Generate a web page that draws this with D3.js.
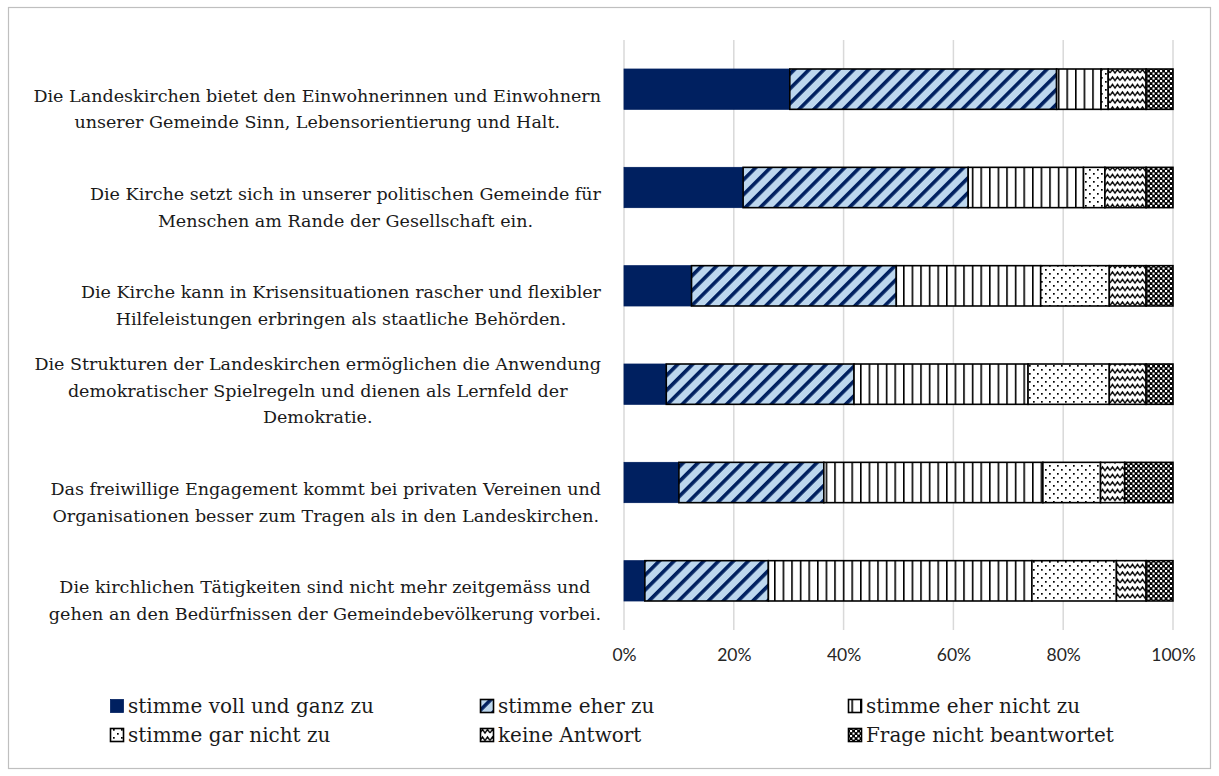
<!DOCTYPE html>
<html>
<head>
<meta charset="utf-8">
<script src="https://cdn.jsdelivr.net/npm/d3@7/dist/d3.min.js"></script>
<style>
  html, body { margin: 0; padding: 0; background: #fff; }
  svg { display: block; }
</style>
</head>
<body>
<svg id="chart" width="1219" height="776"></svg>
<script>
// Statements (each entry holds the wrapped lines of one category label)
const categories = [
  ["Die Landeskirchen bietet den Einwohnerinnen und Einwohnern", "unserer Gemeinde Sinn, Lebensorientierung und Halt."],
  ["Die Kirche setzt sich in unserer politischen Gemeinde für", "Menschen am Rande der Gesellschaft ein."],
  ["Die Kirche kann in Krisensituationen rascher und flexibler", "Hilfeleistungen erbringen als staatliche Behörden."],
  ["Die Strukturen der Landeskirchen ermöglichen die Anwendung", "demokratischer Spielregeln und dienen als Lernfeld der", "Demokratie."],
  ["Das freiwillige Engagement kommt bei privaten Vereinen und", "Organisationen besser zum Tragen als in den Landeskirchen."],
  ["Die kirchlichen Tätigkeiten sind nicht mehr zeitgemäss und", "gehen an den Bedürfnissen der Gemeindebevölkerung vorbei."]
];

// Answer categories
const seriesNames = [
  "stimme voll und ganz zu",
  "stimme eher zu",
  "stimme eher nicht zu",
  "stimme gar nicht zu",
  "keine Antwort",
  "Frage nicht beantwortet"
];

// Shares in percent, one value per statement
const volUndGanz     = [30.2, 21.7, 12.3,  7.7, 10.0,  3.8];
const eherZu         = [48.6, 41.0, 37.3, 34.2, 26.4, 22.5];
const eherNicht      = [ 8.1, 21.0, 26.3, 31.7, 39.9, 48.0];
const garNicht       = [ 1.3,  3.9, 12.5, 14.8, 10.5, 15.4];
const keineAntwort   = [ 6.9,  7.5,  6.7,  6.7,  4.4,  5.4];
const nichtBeantwort = [ 4.9,  4.9,  4.9,  4.9,  8.8,  4.9];

const tickValues = [0, 20, 40, 60, 80, 100];
const tickLabels = ["0%", "20%", "40%", "60%", "80%", "100%"];

const seriesValues = [volUndGanz, eherZu, eherNicht, garNicht, keineAntwort, nichtBeantwort];

const table = categories.map((c, i) => {
  const row = { key: i };
  seriesNames.forEach((s, j) => { row[s] = seriesValues[j][i]; });
  return row;
});

const svg = d3.select("#chart");
const serif = "'Palatino Linotype', 'Book Antiqua', Palatino, 'DejaVu Serif', serif";

// Background and frame
svg.append("rect").attr("width", 1219).attr("height", 776).attr("fill", "#fff");
svg.append("rect")
  .attr("x", 8.5).attr("y", 7.5).attr("width", 1202).attr("height", 761)
  .attr("fill", "none").attr("stroke", "#bfbfbf").attr("stroke-width", 1.2);

// Fill patterns
const defs = svg.append("defs");
const NAVY = "#002060";

const pDiag = defs.append("pattern").attr("id", "p-diag")
  .attr("patternUnits", "userSpaceOnUse").attr("width", 10.5).attr("height", 10.5)
  .attr("patternTransform", "rotate(45)");
pDiag.append("rect").attr("width", 10.5).attr("height", 10.5).attr("fill", "#bdd7ee");
pDiag.append("rect").attr("width", 3.6).attr("height", 10.5).attr("fill", NAVY);

const pVert = defs.append("pattern").attr("id", "p-vert")
  .attr("patternUnits", "userSpaceOnUse").attr("width", 8.6).attr("height", 8);
pVert.append("rect").attr("width", 8.6).attr("height", 8).attr("fill", "#fff");
pVert.append("rect").attr("x", 0).attr("width", 1.6).attr("height", 8).attr("fill", "#000");

const pDots = defs.append("pattern").attr("id", "p-dots")
  .attr("patternUnits", "userSpaceOnUse").attr("width", 8).attr("height", 8);
pDots.append("rect").attr("width", 8).attr("height", 8).attr("fill", "#fff");
pDots.append("rect").attr("x", 1).attr("y", 1).attr("width", 1.7).attr("height", 1.7).attr("fill", "#000");
pDots.append("rect").attr("x", 5).attr("y", 5).attr("width", 1.7).attr("height", 1.7).attr("fill", "#000");

const pWave = defs.append("pattern").attr("id", "p-wave")
  .attr("patternUnits", "userSpaceOnUse").attr("width", 10).attr("height", 7.5);
pWave.append("rect").attr("width", 10).attr("height", 7.5).attr("fill", "#fff");
pWave.append("path").attr("d", "M0,5.5 L2.5,2 L5,5.5 L7.5,2 L10,5.5")
  .attr("fill", "none").attr("stroke", "#000").attr("stroke-width", 1.4);

const pDense = defs.append("pattern").attr("id", "p-dense")
  .attr("patternUnits", "userSpaceOnUse").attr("width", 5).attr("height", 5);
pDense.append("rect").attr("width", 5).attr("height", 5).attr("fill", "#000");
pDense.append("rect").attr("x", 0).attr("y", 0).attr("width", 2.1).attr("height", 2.1).attr("fill", "#fff");
pDense.append("rect").attr("x", 2.5).attr("y", 2.5).attr("width", 2.1).attr("height", 2.1).attr("fill", "#fff");

const fills = [NAVY, "url(#p-diag)", "url(#p-vert)", "url(#p-dots)", "url(#p-wave)", "url(#p-dense)"];
const strokes = [NAVY, "#000", "#000", "#000", "#000", "#000"];

// Scales
const x = d3.scaleLinear().domain([0, 100]).range([624, 1173]);
const y = d3.scaleBand().domain(d3.range(categories.length)).range([40, 630])
  .paddingInner(0.59).paddingOuter(0.295);

// Vertical gridlines
svg.append("g").selectAll("line").data(tickValues).join("line")
  .attr("x1", d => x(d)).attr("x2", d => x(d))
  .attr("y1", 40).attr("y2", 630)
  .attr("stroke", "#d9d9d9").attr("stroke-width", 1.5);

// Percent axis labels
const xAxis = d3.axisBottom(x).tickValues(tickValues)
  .tickFormat((d, i) => tickLabels[i]).tickSize(0).tickPadding(0);
const gx = svg.append("g").attr("transform", "translate(0,649)").call(xAxis);
gx.select(".domain").remove();
gx.selectAll("text")
  .attr("font-family", "Lato, 'Open Sans', sans-serif")
  .attr("font-size", 17.5).attr("fill", "#262626").attr("dy", "0.71em");

// Stacked bars
const stack = d3.stack().keys(seriesNames);
const layers = stack(table);

svg.append("g").selectAll("g").data(layers).join("g")
  .attr("fill", (d, i) => fills[i])
  .attr("stroke", (d, i) => strokes[i])
  .attr("stroke-width", (d, i) => i === 0 ? 0.8 : 1.6)
  .selectAll("rect").data(d => d).join("rect")
  .attr("x", d => x(d[0]))
  .attr("y", (d, i) => y(i))
  .attr("width", d => x(d[1]) - x(d[0]))
  .attr("height", y.bandwidth());

// Category labels: lines centred within a right-aligned block, last line anchored below bar centre
const labelG = svg.append("g").attr("font-family", serif).attr("fill", "#1a1a1a");
const probe = labelG.append("text").attr("font-size", 17).text(categories[0][0]);
const labelSize = 17 * 568 / probe.node().getComputedTextLength();
probe.remove();
const lineGap = labelSize * 1.52;
const rightEdge = 601;

categories.forEach((lines, i) => {
  const cy = y(i) + y.bandwidth() / 2;
  const t = labelG.append("text").attr("font-size", labelSize).attr("text-anchor", "middle");
  const tspans = lines.map((ln, k) => t.append("tspan").text(ln));
  const widths = tspans.map(s => s.node().getComputedTextLength());
  const cx = rightEdge - d3.max(widths) / 2;
  const n = lines.length;
  tspans.forEach((s, k) => {
    s.attr("x", cx).attr("y", cy + 33 - (n - 1 - k) * lineGap).attr("dy", "0.35em");
  });
});

// Legend
const legendCols = [110, 480, 848];
const legendRows = [706, 735];
const legendG = svg.append("g").attr("font-family", serif).attr("fill", "#1a1a1a");
const lp = legendG.append("text").attr("font-size", 18).text(seriesNames[0]);
const legendSize = 18 * 246 / lp.node().getComputedTextLength();
lp.remove();

seriesNames.forEach((name, i) => {
  const lx = legendCols[i % 3];
  const ly = legendRows[Math.floor(i / 3)];
  const item = legendG.append("g");
  item.append("rect")
    .attr("x", lx + 0.5).attr("y", ly - 6.5).attr("width", 13).attr("height", 13)
    .attr("fill", fills[i]).attr("stroke", i === 0 ? NAVY : "#000")
    .attr("stroke-width", i === 0 ? 0.8 : 1.6);
  item.append("text")
    .attr("x", lx + 18).attr("y", ly).attr("dy", "0.35em")
    .attr("font-size", legendSize).text(name);
});
</script>
</body>
</html>
